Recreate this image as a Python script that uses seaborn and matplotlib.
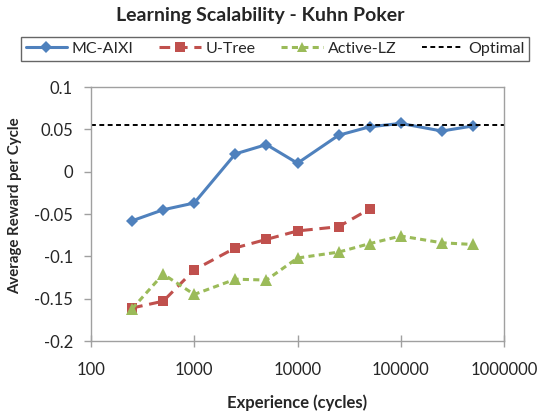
import seaborn as sns
import matplotlib.pyplot as plt
from matplotlib.lines import Line2D

# experience (cycles) at which each agent was evaluated
cycles = [250, 500, 1000, 2500, 5000, 10000, 25000, 50000, 100000, 250000, 500000]
mc_aixi = [-0.058, -0.045, -0.037, 0.021, 0.032, 0.010, 0.043, 0.053, 0.057, 0.048, 0.054]
u_tree = [-0.161, -0.153, -0.116, -0.090, -0.080, -0.070, -0.065, -0.044]
active_lz = [-0.162, -0.121, -0.145, -0.127, -0.128, -0.102, -0.095, -0.085, -0.076, -0.084, -0.086]
optimal = 1 / 18

x_ticks = [100, 1000, 10000, 100000, 1000000]
y_ticks = [-0.2, -0.15, -0.1, -0.05, 0, 0.05, 0.1]
y_tick_labels = ["-0.2", "-0.15", "-0.1", "-0.05", "0", "0.05", "0.1"]

sns.set_style("white")
plt.rcParams["font.family"] = ["Lato", "DejaVu Sans"]

W, H = 537, 415
fig = plt.figure(figsize=(W / 100, H / 100), dpi=100)
ax = fig.add_axes([91 / W, 1 - 341 / H, (504 - 91) / W, (341 - 87) / H])

blue, red, green = "#4F81BD", "#C0504D", "#9BBB59"

sns.lineplot(x=cycles, y=mc_aixi, ax=ax, color=blue, marker="D", markersize=6.5,
             markeredgewidth=0, linewidth=2.2)
sns.lineplot(x=cycles[:len(u_tree)], y=u_tree, ax=ax, color=red, marker="s",
             markersize=7.5, markeredgewidth=0, linewidth=2.2)
ax.lines[-1].set_dashes([3.5, 2.2])
sns.lineplot(x=cycles, y=active_lz, ax=ax, color=green, marker="^", markersize=8,
             markeredgewidth=0, linewidth=2.2)
ax.lines[-1].set_dashes([2, 1.4])
ax.axhline(optimal, color="black", linestyle=(0, (2.5, 1.8)), linewidth=1.4)

ax.set_xscale("log")
ax.set_xlim(100, 1000000)
ax.set_ylim(-0.2, 0.1)
ax.set_xticks(x_ticks)
ax.set_xticklabels([str(t) for t in x_ticks])
ax.minorticks_off()
ax.set_yticks(y_ticks)
ax.set_yticklabels(y_tick_labels)

for s in ax.spines.values():
    s.set_color("#a0a0a0")
    s.set_linewidth(1.0)
ax.tick_params(axis="x", direction="inout", length=8, width=1, color="#a0a0a0",
               labelsize=12, pad=11)
ax.tick_params(axis="y", direction="out", length=5, width=1, color="#a0a0a0",
               labelsize=12, pad=8)
ax.tick_params(left=True, bottom=True)

fig.text(260 / W, 1 - 16 / H, "Learning Scalability - Kuhn Poker", ha="center",
         va="center", fontsize=14, fontweight="bold")
fig.text(297 / W, 1 - 403 / H, "Experience (cycles)", ha="center", va="center",
         fontsize=12, fontweight="bold")
fig.text(15 / W, 1 - 206 / H, "Average Reward per Cycle", ha="center", va="center",
         rotation=90, fontsize=10.8, fontweight="bold")

handles = [
    Line2D([], [], color=blue, marker="D", markersize=6, markeredgewidth=0, linewidth=2.2),
    Line2D([], [], color=red, marker="s", markersize=7, markeredgewidth=0, linewidth=2.2,
           dashes=[3.5, 2.2]),
    Line2D([], [], color=green, marker="^", markersize=7.5, markeredgewidth=0,
           linewidth=2.2, dashes=[2, 1.4]),
    Line2D([], [], color="black", linestyle=(0, (2.5, 1.8)), linewidth=1.4),
]
labels = ["MC-AIXI", "U-Tree", "Active-LZ", "Optimal"]
leg = fig.legend(handles, labels, loc="center", ncol=4,
                 bbox_to_anchor=(275 / W, 1 - 49 / H), frameon=True, fancybox=False,
                 fontsize=11.5, handlelength=2.6, handletextpad=0.3, columnspacing=1.6,
                 borderpad=0.3)
leg.get_frame().set_edgecolor("#404040")
leg.get_frame().set_linewidth(1.0)

fig.savefig("out.png", dpi=100)
